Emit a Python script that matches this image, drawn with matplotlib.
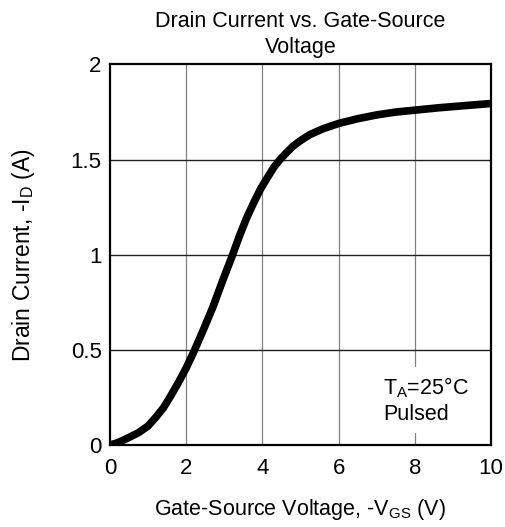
import numpy as np
import matplotlib.pyplot as plt

plt.rcParams['font.family'] = ['Liberation Sans', 'DejaVu Sans']

# drain current curve
vgs = [0, 0.2, 0.4, 0.75, 1.0, 1.2, 1.4, 1.6, 1.8, 2.0, 2.2, 2.45, 2.7,
       2.95, 3.2, 3.4, 3.6, 3.8, 3.95, 4.1, 4.3, 4.46, 4.65, 4.8, 5.0,
       5.25, 5.6, 6.0, 6.5, 7.0, 7.5, 8.0, 8.6, 9.2, 10.0]
i_d = [0, 0.012, 0.03, 0.065, 0.10, 0.145, 0.195, 0.26, 0.33, 0.405, 0.49,
       0.605, 0.725, 0.86, 0.99, 1.10, 1.20, 1.285, 1.345, 1.395, 1.46, 1.50,
       1.54, 1.57, 1.60, 1.632, 1.663, 1.69, 1.715, 1.735, 1.75, 1.76, 1.772,
       1.782, 1.795]

x_ticks = [0, 2, 4, 6, 8, 10]
y_ticks = [0, 0.5, 1, 1.5, 2]
y_tick_labels = ['0', '0.5', '1', '1.5', '2']

fig = plt.figure(figsize=(5.06, 5.27), dpi=100)
ax = fig.add_axes([110 / 506, 82 / 527, 381 / 506, 380.5 / 527])

for xv in x_ticks[1:-1]:
    ax.axvline(xv, color='#808080', linewidth=0.9, zorder=1)
for yv in y_ticks[1:-1]:
    ax.axhline(yv, color='#202020', linewidth=1.0, zorder=1)

ax.plot(vgs, i_d, color='black', linewidth=5.5, solid_capstyle='butt',
        solid_joinstyle='round', zorder=3)

ax.set_xlim(0, 10)
ax.set_ylim(0, 2)
ax.set_xticks(x_ticks)
ax.set_yticks(y_ticks)
ax.set_yticklabels(y_tick_labels)
ax.tick_params(length=0, labelsize=16, pad=6)
ax.tick_params(axis='x', pad=9)
for s in ax.spines.values():
    s.set_linewidth(1.6)

ax.text(7.17, 0.235, 'T$_\\mathregular{A}$=25°C\nPulsed', fontsize=15.5,
        linespacing=1.2, va='center', ha='left', zorder=4,
        bbox=dict(facecolor='white', edgecolor='none', pad=6))

ax.set_title('Drain Current vs. Gate-Source\nVoltage', fontsize=15.5, pad=8,
             linespacing=1.35)
ax.set_xlabel('Gate-Source Voltage, -V$_\\mathregular{GS}$ (V)', fontsize=15.5, labelpad=13)
ax.set_ylabel('Drain Current, -I$_\\mathregular{D}$ (A)', fontsize=16.5, labelpad=24)

fig.savefig('out.png', dpi=100)
